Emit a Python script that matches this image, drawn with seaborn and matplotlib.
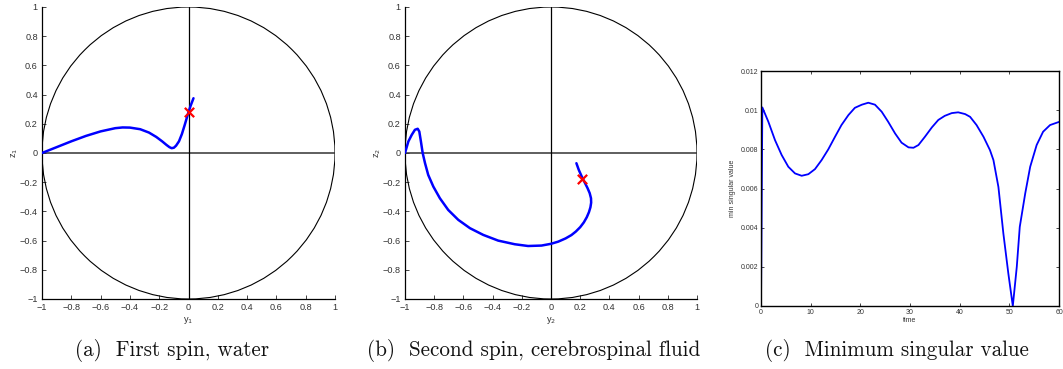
import numpy as np
import pandas as pd
import matplotlib
matplotlib.use("Agg")
import matplotlib.pyplot as plt
from matplotlib.patches import Circle
from matplotlib.ticker import FuncFormatter
import seaborn as sns

# Trajectory of the first spin (water) in the (y1, z1) plane
spin1_y = [-1.0, -0.9, -0.8, -0.7, -0.6, -0.5, -0.45, -0.4, -0.33, -0.27, -0.22,
           -0.18, -0.15, -0.13, -0.115, -0.10, -0.085, -0.065, -0.045, -0.025,
           0.0, 0.015, 0.034]
spin1_z = [0.0, 0.04, 0.08, 0.117, 0.148, 0.170, 0.175, 0.174, 0.163, 0.140, 0.110,
           0.080, 0.055, 0.040, 0.033, 0.036, 0.050, 0.080, 0.130, 0.195,
           0.280, 0.325, 0.375]
spin1_target = (0.0, 0.28)

# Trajectory of the second spin (cerebrospinal fluid) in the (y2, z2) plane
spin2_y = [-1.0, -0.977, -0.954, -0.932, -0.913, -0.902, -0.891, -0.879, -0.863,
           -0.841, -0.806, -0.761, -0.704, -0.635, -0.555, -0.464, -0.362, -0.248,
           -0.157, -0.065, 0.0, 0.05, 0.1, 0.14, 0.17, 0.2, 0.225, 0.245, 0.26,
           0.27, 0.275, 0.274, 0.265, 0.25, 0.23, 0.21, 0.19, 0.174]
spin2_z = [0.0, 0.079, 0.124, 0.159, 0.166, 0.147, 0.079, 0.0, -0.069,
           -0.15, -0.23, -0.31, -0.39, -0.458, -0.515, -0.561, -0.6, -0.625,
           -0.637, -0.634, -0.622, -0.607, -0.585, -0.562, -0.538, -0.508, -0.475,
           -0.44, -0.405, -0.372, -0.34, -0.31, -0.275, -0.24, -0.2, -0.16,
           -0.115, -0.07]
spin2_target = (0.209, -0.177)

# Minimum singular value over time
time = [0.0, 0.27, 1.48, 2.82, 4.16, 5.5, 6.85, 8.19, 9.53, 10.87, 12.2, 13.55,
        14.9, 16.2, 17.6, 18.9, 20.3, 21.6, 22.95, 24.3, 25.6, 27.0, 28.3, 29.7,
        30.7, 31.7, 33.0, 34.4, 35.7, 37.0, 38.4, 39.7, 41.1, 42.1, 43.4, 44.8,
        46.1, 46.8, 47.8, 48.8, 49.8, 50.7, 51.5, 52.1, 53.2, 54.2, 55.5, 56.8,
        58.2, 60.0]
min_sv = [0.0, 0.01014, 0.00941, 0.00847, 0.00771, 0.00711, 0.00677, 0.00665,
          0.00673, 0.00699, 0.00745, 0.0080, 0.00864, 0.00924, 0.00975, 0.01012,
          0.01028, 0.01038, 0.01028, 0.00992, 0.00941, 0.00881, 0.00834, 0.0081,
          0.00808, 0.00822, 0.00864, 0.00912, 0.0095, 0.00971, 0.00985, 0.00989,
          0.0098, 0.00966, 0.00924, 0.00864, 0.00796, 0.00745, 0.00608, 0.0037,
          0.00166, 0.0, 0.002, 0.00404, 0.00575, 0.00711, 0.00822, 0.0089,
          0.00924, 0.0094]

captions = ["(a)  First spin, water",
            "(b)  Second spin, cerebrospinal fluid",
            "(c)  Minimum singular value"]

sns.set_theme(style="ticks")
plt.rcParams["font.family"] = ["Liberation Sans", "DejaVu Sans"]

BLUE = "#0000ff"
TICK_COLOR = "#333333"

fig = plt.figure(figsize=(10.63, 3.69), dpi=100)
W, H = 1063, 369

fmt = FuncFormatter(lambda v, pos: f"{v + 0.0:g}".replace("-", "\u2212"))


def add_axes(left, top, right, bottom):
    return fig.add_axes([left / W, 1 - bottom / H, (right - left) / W, (bottom - top) / H])


def bloch_panel(ax, ys, zs, target, idx):
    ax.add_patch(Circle((0, 0), 1, fill=False, ec="black", lw=0.8, zorder=1))
    ax.axhline(0, color="#333333", lw=1.1, zorder=1)
    ax.axvline(0, color="black", lw=0.9, zorder=1)
    df = pd.DataFrame({"y": ys, "z": zs})
    sns.lineplot(data=df, x="y", y="z", sort=False, estimator=None,
                 color=BLUE, lw=1.8, ax=ax, zorder=3)
    ax.scatter([target[0]], [target[1]], marker="x", s=45, color="red",
               linewidths=1.6, zorder=4)
    ax.set_xlim(-1, 1)
    ax.set_ylim(-1, 1)
    ticks = np.round(np.arange(-1, 1.01, 0.2), 1) + 0.0
    ax.set_xticks(ticks)
    ax.set_yticks(ticks)
    ax.xaxis.set_major_formatter(fmt)
    ax.yaxis.set_major_formatter(fmt)
    for s in ("top", "right"):
        ax.spines[s].set_visible(False)
    for s in ("left", "bottom"):
        ax.spines[s].set_linewidth(0.9)
        ax.spines[s].set_color("black")
    ax.tick_params(direction="in", length=3, width=0.6, labelsize=6.6,
                   labelcolor=TICK_COLOR, pad=3)
    ax.set_xlabel(f"y$_{idx}$", fontsize=6.6, color=TICK_COLOR, labelpad=2)
    ax.set_ylabel(f"z$_{idx}$", fontsize=6.6, color=TICK_COLOR, labelpad=0)


ax_a = add_axes(42, 7, 335, 299)
bloch_panel(ax_a, spin1_y, spin1_z, spin1_target, 1)

ax_b = add_axes(405, 7, 697, 299)
bloch_panel(ax_b, spin2_y, spin2_z, spin2_target, 2)

ax_c = add_axes(761, 71, 1059, 306)
df_c = pd.DataFrame({"time": time, "min singular value": min_sv})
sns.lineplot(data=df_c, x="time", y="min singular value", sort=False,
             estimator=None, color=BLUE, lw=1.3, ax=ax_c)
ax_c.set_xlim(0, 60)
ax_c.set_ylim(0, 0.012)
ax_c.set_xticks(np.arange(0, 61, 10))
ax_c.set_yticks(np.round(np.arange(0, 0.0121, 0.002), 3))
ax_c.xaxis.set_major_formatter(fmt)
ax_c.yaxis.set_major_formatter(fmt)
for s in ax_c.spines.values():
    s.set_linewidth(1.0)
    s.set_color("black")
ax_c.tick_params(direction="in", length=2.5, width=0.6, labelsize=5,
                 labelcolor=TICK_COLOR, pad=2, top=True, right=True)
ax_c.set_xlabel("time", fontsize=5, color=TICK_COLOR, labelpad=1)
ax_c.set_ylabel("min singular value", fontsize=5, color=TICK_COLOR, labelpad=3)

for cx, text in zip([172, 534, 897], captions):
    fig.text(cx / W, 1 - 350 / H, text, ha="center", va="center",
             fontsize=15.2, family="cmr10", color="#111111")

fig.savefig("out.png", dpi=100)
